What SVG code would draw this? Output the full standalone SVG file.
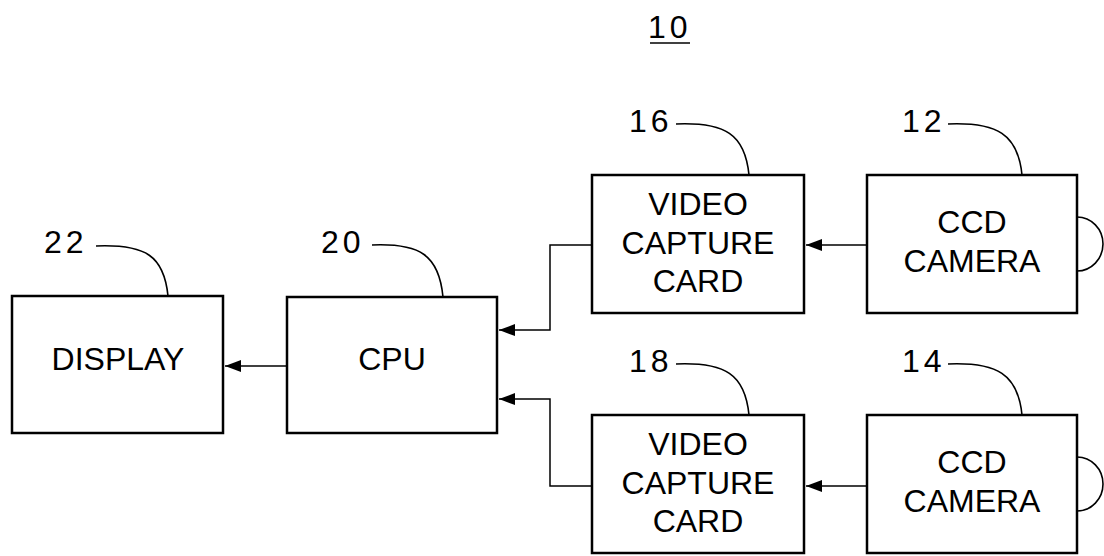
<svg xmlns="http://www.w3.org/2000/svg" width="1104" height="556" viewBox="0 0 1104 556">
<defs>
<style>
.box{fill:#fff;stroke:#000;stroke-width:2.5}
.t{font-family:"Liberation Sans",Arial,sans-serif;font-size:32px;fill:#000;text-anchor:middle}
.num{font-family:"Liberation Sans",Arial,sans-serif;font-size:32px;fill:#000;letter-spacing:4px}
.ld{fill:none;stroke:#000;stroke-width:1.6}
.cn{fill:none;stroke:#000;stroke-width:1.5}
</style>
<marker id="ah" markerUnits="userSpaceOnUse" markerWidth="17" markerHeight="12" refX="16" refY="6" orient="auto">
<path d="M0,0 L16,6 L0,12 Z" fill="#000"/>
</marker>
</defs>
<rect width="1104" height="556" fill="#fff"/>

<g id="label10">
<text class="num" x="648" y="38">10</text>
<line x1="650" y1="43" x2="690" y2="43" stroke="#000" stroke-width="1.6"/>
</g>

<g id="display">
<rect class="box" x="12" y="296" width="211" height="137"/>
<text class="t" x="118" y="370">DISPLAY</text>
<text class="num" x="44" y="253">22</text>
<path class="ld" d="M96,246 C146,244 164,256 168,296"/>
</g>

<g id="cpu">
<rect class="box" x="287" y="297" width="210" height="136"/>
<text class="t" x="392" y="370">CPU</text>
<text class="num" x="321" y="253">20</text>
<path class="ld" d="M372,245 C420,243 439,255 443,297"/>
</g>

<g id="vcc16">
<rect class="box" x="592" y="175" width="212" height="138"/>
<text class="t" x="698" y="215">VIDEO</text>
<text class="t" x="698" y="254">CAPTURE</text>
<text class="t" x="698" y="292">CARD</text>
<text class="num" x="629" y="132">16</text>
<path class="ld" d="M676,124 C725,122 745,134 749,175"/>
</g>

<g id="ccd12">
<rect class="box" x="867" y="175" width="210" height="138"/>
<text class="t" x="972" y="233">CCD</text>
<text class="t" x="972" y="272">CAMERA</text>
<text class="num" x="902" y="132">12</text>
<path class="ld" d="M948,124 C997,122 1018,134 1022,175"/>
<path class="ld" d="M1077,217 A26,27 0 0 1 1077,271"/>
</g>

<g id="vcc18">
<rect class="box" x="592" y="415" width="212" height="138"/>
<text class="t" x="698" y="455">VIDEO</text>
<text class="t" x="698" y="494">CAPTURE</text>
<text class="t" x="698" y="532">CARD</text>
<text class="num" x="629" y="372">18</text>
<path class="ld" d="M676,364 C725,362 745,374 749,415"/>
</g>

<g id="ccd14">
<rect class="box" x="867" y="415" width="210" height="138"/>
<text class="t" x="972" y="473">CCD</text>
<text class="t" x="972" y="512">CAMERA</text>
<text class="num" x="902" y="372">14</text>
<path class="ld" d="M948,364 C997,362 1018,374 1022,415"/>
<path class="ld" d="M1077,457 A26,27 0 0 1 1077,511"/>
</g>

<g id="connectors">
<path class="cn" d="M287,366 H225" marker-end="url(#ah)"/>
<path class="cn" d="M592,245 H550 V330 H499" marker-end="url(#ah)"/>
<path class="cn" d="M592,486 H550 V399 H499" marker-end="url(#ah)"/>
<path class="cn" d="M867,245 H806" marker-end="url(#ah)"/>
<path class="cn" d="M867,486 H806" marker-end="url(#ah)"/>
</g>
</svg>
